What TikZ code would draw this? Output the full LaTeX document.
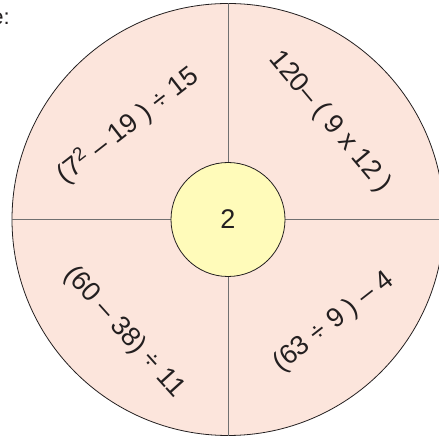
\documentclass[tikz,border=0pt]{standalone}
\usepackage{fontspec}
\setmainfont{Liberation Sans}
\definecolor{ringfill}{HTML}{FCE5DC}
\definecolor{hubfill}{HTML}{FFFBBA}
\definecolor{ink}{HTML}{231F20}
\definecolor{divider}{HTML}{707070}
\tikzset{
  expr/.style={font=\fontsize{27}{30}\selectfont, text=ink, inner sep=0pt},
}
\begin{document}
\begin{tikzpicture}[x=1pt,y=1pt]
\useasboundingbox (0,0) rectangle (439,438);
\clip (0,0) rectangle (439,438);
\coordinate (c) at (228,218.5);
\node[circle, draw=ink, line width=0.8pt, fill=ringfill, minimum size=432pt, inner sep=0pt] (outer) at (c) {};
\draw[divider, line width=0.9pt] (outer.north) -- (outer.south);
\draw[divider, line width=0.9pt] (outer.west) -- (outer.east);
\node[circle, draw=ink, line width=0.8pt, fill=hubfill, minimum size=114pt, inner sep=0pt, font=\fontsize{27}{30}\selectfont, text=ink] (hub) at (c) {2};
\node[expr, rotate=38] (ea) at (128,313) {(7\textsuperscript{2} -- 19 ) ÷ 15};
\node[expr, rotate=-50] (eb) at (330,316) {120-- ( 9 x 12 )};
\node[expr, rotate=-48] (ec) at (124,106) {(60 -- 38) ÷ 11};
\node[expr, rotate=38] (ed) at (334,116) {(63 ÷ 9 ) -- 4};
\node[anchor=east, font=\fontsize{22}{24}\selectfont, text=ink, inner sep=0pt] (lead) at (10,419) {e:};
\end{tikzpicture}
\end{document}
